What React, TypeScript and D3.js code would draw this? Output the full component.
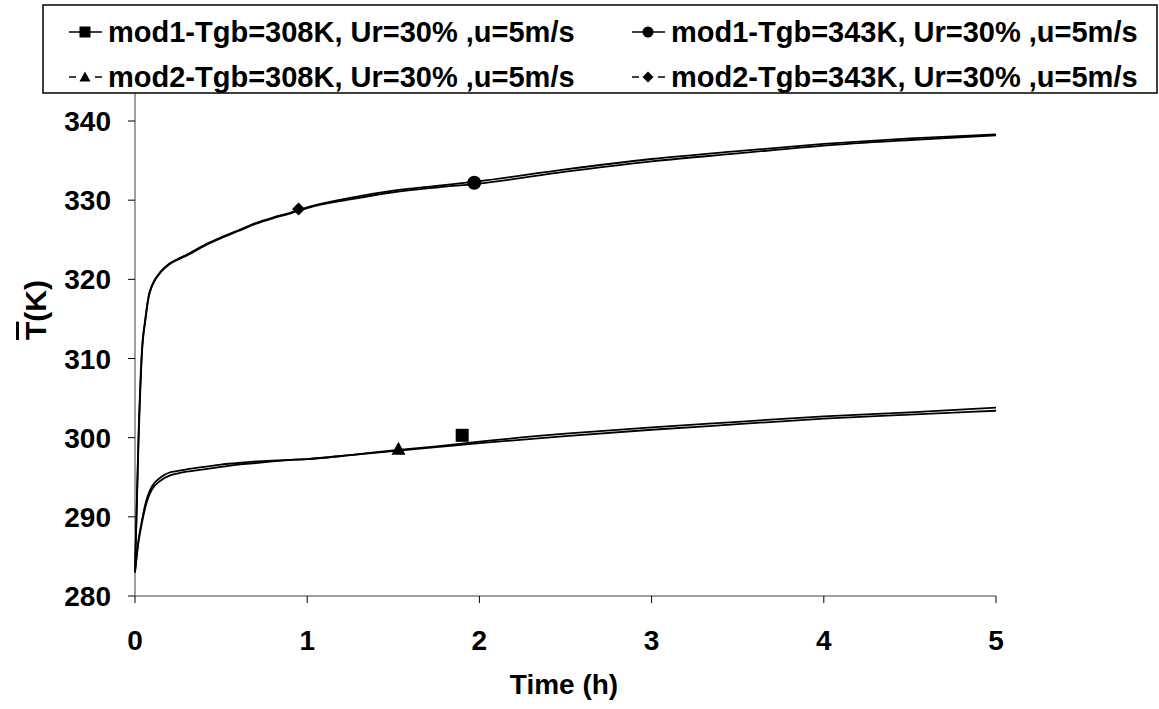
import React from "react";
import * as d3 from "d3";

const times = [0, 0.02, 0.04, 0.06, 0.08, 0.1, 0.15, 0.2, 0.25, 0.3, 0.4, 0.5, 0.6, 0.7, 0.8, 0.9, 1.0, 1.25, 1.5, 1.75, 2.0, 2.5, 3.0, 3.5, 4.0, 4.5, 5.0];
const mod1_343 = [283, 300, 311, 315, 318, 319.3, 321, 322, 322.6, 323.1, 324.3, 325.3, 326.2, 327.1, 327.8, 328.4, 329.1, 330.3, 331.2, 331.8, 332.4, 333.9, 335.2, 336.2, 337.1, 337.8, 338.3];
const mod2_343 = [283, 299, 310.5, 314.8, 317.8, 319.2, 320.9, 321.9, 322.5, 323.0, 324.2, 325.2, 326.1, 327.0, 327.7, 328.3, 329.0, 330.1, 331.0, 331.6, 332.1, 333.6, 334.9, 335.9, 336.9, 337.6, 338.2];
const mod1_308 = [283, 287, 289.5, 291.6, 293.0, 293.9, 295.0, 295.6, 295.8, 296.0, 296.3, 296.6, 296.8, 297.0, 297.1, 297.2, 297.3, 297.8, 298.4, 298.9, 299.5, 300.5, 301.3, 302.0, 302.7, 303.2, 303.8];
const mod2_308 = [283, 286.8, 289.2, 291.2, 292.6, 293.5, 294.6, 295.2, 295.5, 295.7, 296.0, 296.3, 296.6, 296.8, 297.0, 297.2, 297.3, 297.8, 298.3, 298.8, 299.3, 300.2, 301.0, 301.7, 302.4, 302.9, 303.4];

// single marker points per series [time, T]
const markerMod1_308 = [1.9, 300.3];
const markerMod1_343 = [1.97, 332.2];
const markerMod2_308 = [1.53, 298.6];
const markerMod2_343 = [0.95, 328.9];

const xTicks = [0, 1, 2, 3, 4, 5];
const yTicks = [280, 290, 300, 310, 320, 330, 340];

const legendLabels = [
  "mod1-Tgb=308K, Ur=30% ,u=5m/s",
  "mod1-Tgb=343K, Ur=30% ,u=5m/s",
  "mod2-Tgb=308K, Ur=30% ,u=5m/s",
  "mod2-Tgb=343K, Ur=30% ,u=5m/s",
];

const FONT = "'Liberation Sans', Arial, sans-serif";

function Marker({ kind, x, y, s }: { kind: string; x: number; y: number; s: number }) {
  if (kind === "square") return <rect x={x - s / 2} y={y - s / 2} width={s} height={s} fill="#000" />;
  if (kind === "circle") return <circle cx={x} cy={y} r={s / 2} fill="#000" />;
  if (kind === "triangle")
    return <path d={`M${x},${y - s / 2} L${x + s / 2},${y + s / 2 - 1} L${x - s / 2},${y + s / 2 - 1} Z`} fill="#000" />;
  return <path d={`M${x},${y - s / 2} L${x + s / 2},${y} L${x},${y + s / 2} L${x - s / 2},${y} Z`} fill="#000" />;
}

export default function App() {
  const x = d3.scaleLinear().domain([0, 5]).range([135, 996]);
  const y = d3.scaleLinear().domain([280, 340]).range([596, 121]);
  const line = d3
    .line<number>()
    .x((_, i) => x(times[i]))
    .y((d) => y(d))
    .curve(d3.curveMonotoneX);

  const series = [mod1_343, mod2_343, mod1_308, mod2_308];
  const legendItems = [
    { label: legendLabels[0], kind: "square", dashed: false, lx: 69, ly: 32 },
    { label: legendLabels[1], kind: "circle", dashed: false, lx: 632, ly: 32 },
    { label: legendLabels[2], kind: "triangle", dashed: true, lx: 69, ly: 77 },
    { label: legendLabels[3], kind: "diamond", dashed: true, lx: 632, ly: 77 },
  ];

  return (
    <svg width={1159} height={709} style={{ position: "absolute", left: 0, top: 0, background: "#fff" }} fontFamily={FONT}>
      <rect x={0} y={0} width={1159} height={709} fill="#fff" />
      {/* axes */}
      <line x1={135} y1={596} x2={135} y2={93} stroke="#808080" strokeWidth={1.5} />
      <line x1={135} y1={596} x2={996} y2={596} stroke="#808080" strokeWidth={1.5} />
      {yTicks.map((t) => (
        <g key={t}>
          <line x1={128} x2={135} y1={y(t)} y2={y(t)} stroke="#000" strokeWidth={1} />
          <text x={111} y={y(t)} dy="0.36em" textAnchor="end" fontSize={28} fontWeight="bold">
            {t}
          </text>
        </g>
      ))}
      {xTicks.map((t) => (
        <g key={t}>
          <line x1={x(t)} x2={x(t)} y1={596} y2={603} stroke="#000" strokeWidth={1} />
          <text x={x(t)} y={650} textAnchor="middle" fontSize={28} fontWeight="bold">
            {t}
          </text>
        </g>
      ))}
      <text x={564} y={694} textAnchor="middle" fontSize={28} fontWeight="bold">
        Time (h)
      </text>
      <g transform="translate(46,310) rotate(-90)">
        <text x={0} y={0} textAnchor="middle" fontSize={30} fontWeight="bold">
          <tspan textDecoration="overline">T</tspan>(K)
        </text>
      </g>
      {/* curves */}
      {series.map((s, i) => (
        <path key={i} d={line(s) || ""} fill="none" stroke="#000" strokeWidth={1.8} />
      ))}
      <Marker kind="square" x={x(markerMod1_308[0])} y={y(markerMod1_308[1])} s={13} />
      <Marker kind="circle" x={x(markerMod1_343[0])} y={y(markerMod1_343[1])} s={14} />
      <Marker kind="triangle" x={x(markerMod2_308[0])} y={y(markerMod2_308[1])} s={14} />
      <Marker kind="diamond" x={x(markerMod2_343[0])} y={y(markerMod2_343[1])} s={13} />
      {/* legend */}
      <rect x={43} y={5} width={1114} height={88} fill="#fff" stroke="#000" strokeWidth={1.5} />
      {legendItems.map((it, i) => (
        <g key={i}>
          {it.dashed ? (
            <>
              <line x1={it.lx} x2={it.lx + 7} y1={it.ly} y2={it.ly} stroke="#000" strokeWidth={1.5} />
              <line x1={it.lx + 26} x2={it.lx + 33} y1={it.ly} y2={it.ly} stroke="#000" strokeWidth={1.5} />
            </>
          ) : (
            <line x1={it.lx} x2={it.lx + 33} y1={it.ly} y2={it.ly} stroke="#000" strokeWidth={1.5} />
          )}
          <Marker kind={it.kind} x={it.lx + 16} y={it.ly} s={11} />
          <text x={it.lx + 39} y={it.ly} dy="0.36em" fontSize={29} fontWeight="bold">
            {it.label}
          </text>
        </g>
      ))}
    </svg>
  );
}
